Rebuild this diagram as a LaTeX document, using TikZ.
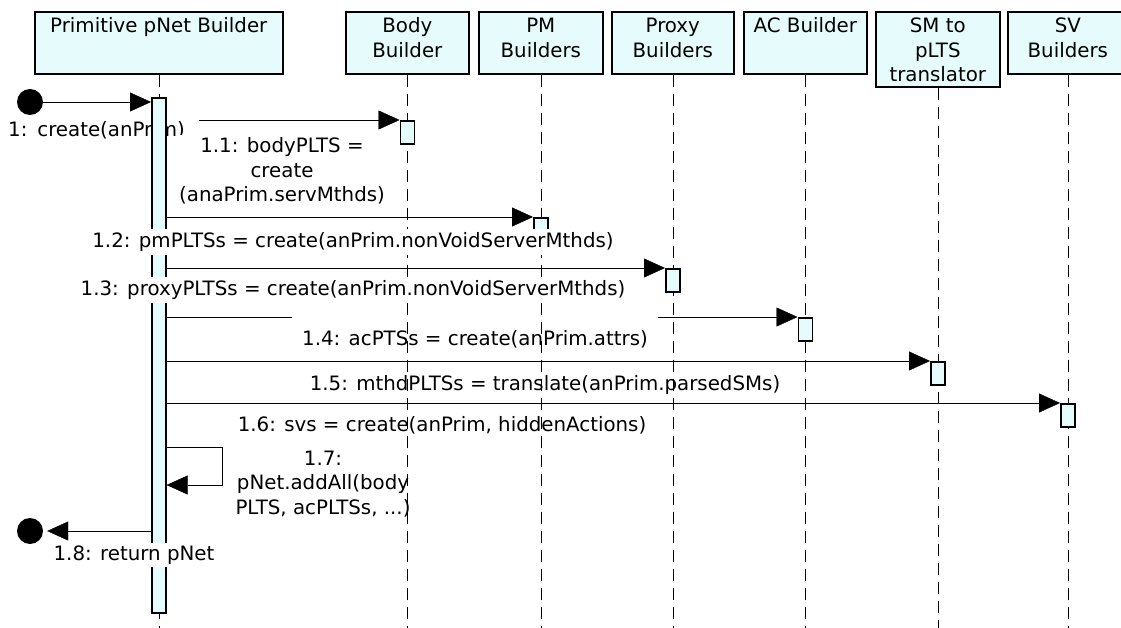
\documentclass[tikz,border=0pt]{standalone}
\usepackage{fontspec}
\setmainfont{DejaVu Sans}
\usetikzlibrary{arrows.meta}

\definecolor{lifefill}{RGB}{230,252,252}

% head box text, top aligned
\newcommand{\headtext}[3]{\parbox[t][#2][t]{#1}{\centering\vspace*{4pt}\strut #3}}

\pgfdeclarelayer{msgs}
\pgfdeclarelayer{lines}
\pgfdeclarelayer{top}
\pgfsetlayers{msgs,lines,main,top}

\tikzset{
  head/.style={draw, fill=lifefill, inner sep=0pt, anchor=north west},
  lifeline/.style={dash pattern=on 12pt off 7pt},
  act/.style={draw, fill=lifefill, minimum width=14pt, inner sep=0pt, anchor=north},
  msg/.style={-{Triangle[length=21pt,width=19pt]}},
  lbl/.style={fill=white, inner sep=3pt, align=center},
  endpt/.style={circle, fill=black, minimum size=26pt, inner sep=0pt},
}

\begin{document}
\begin{tikzpicture}[x=1pt, y=-1pt, line width=1.6pt, font=\fontsize{19.8}{24.5}\selectfont]
  \useasboundingbox (0,0) rectangle (1121,628);
  \coordinate (bottom) at (0,628);

  % lifeline heads
  \node[head] (prim)  at (34,11)   {\headtext{248pt}{62pt}{Primitive pNet Builder}};
  \node[head] (body)  at (345,11)  {\headtext{123pt}{62pt}{Body\\Builder}};
  \node[head] (pm)    at (478,11)  {\headtext{124pt}{62pt}{PM\\Builders}};
  \node[head] (proxy) at (611,11)  {\headtext{122pt}{62pt}{Proxy\\Builders}};
  \node[head] (ac)    at (743,11)  {\headtext{123pt}{62pt}{AC Builder}};
  \node[head] (sm)    at (875,11)  {\headtext{124pt}{75pt}{SM to\\pLTS\\translator}};
  \node[head] (sv)    at (1007,11) {\headtext{120pt}{62pt}{SV\\Builders}};

  % activations
  \node[act, minimum height=515pt] (a0) at (prim |- 0,97) {};
  \node[act, minimum height=23pt] (a1) at (body |- 0,120) {};
  \node[act, minimum height=23pt] (a2) at (pm |- 0,217) {};
  \node[act, minimum height=23pt] (a3) at (proxy |- 0,268) {};
  \node[act, minimum height=23pt] (a4) at (ac |- 0,317) {};
  \node[act, minimum height=23pt] (a5) at (sm |- 0,361) {};
  \node[act, minimum height=23pt] (a6) at (sv |- 0,403) {};

  \begin{pgfonlayer}{lines}
    \foreach \n in {prim,body,pm,proxy,ac,sm,sv}
      \draw[lifeline] (\n.south) -- (\n.south |- bottom);
  \end{pgfonlayer}

  \begin{pgfonlayer}{msgs}
    \node[endpt] (init) at (30,102) {};
    \node[endpt] (final) at (30,531) {};

    % messages
    \draw[msg] (init) -- (init -| a0.west);
    \draw[msg] (a0.east |- a1.north) -- (a1.north west);
    \draw[msg] (a0.east |- a2.north) -- (a2.north west);
    \draw[msg] (a0.east |- a3.north) -- (a3.north west);
    \draw[msg] (a0.east |- a4.north) -- (a4.north west);
    \draw[msg] (a0.east |- a5.north) -- (a5.north west);
    \draw[msg] (a0.east |- a6.north) -- (a6.north west);
    \draw[msg] (a0.east |- 0,447) -- ++(56,0) |- (a0.east |- 0,485);
    \draw[msg, shorten >=4pt] (a0.west |- final) -- (final.east);

    % labels
    \node[lbl, anchor=west, text width=186pt, align=left, inner xsep=5pt] (l1) at (3,130) {1: create(anPrim)};
    \node[lbl] (l11) at (282,171) {1.1: bodyPLTS =\\create\\(anaPrim.servMthds)};
    \node[lbl, anchor=base, text height=26pt, inner xsep=10pt] (l14) at (475,345) {1.4: acPTSs = create(anPrim.attrs)};
    \node[lbl] (l15) at (545,385) {1.5: mthdPLTSs = translate(anPrim.parsedSMs)};
    \node[lbl] (l16) at (442,425) {1.6: svs = create(anPrim, hiddenActions)};
    \node[lbl] (l17) at (323,484) {1.7:\\pNet.addAll(body\\PLTS, acPLTSs, ...)};
  \end{pgfonlayer}

  \begin{pgfonlayer}{top}
    \node[lbl] (l12) at (353,242) {1.2: pmPLTSs = create(anPrim.nonVoidServerMthds)};
    \node[lbl] (l13) at (353,290) {1.3: proxyPLTSs = create(anPrim.nonVoidServerMthds)};
    \node[lbl] (l18) at (134,555) {1.8: return pNet};
  \end{pgfonlayer}
\end{tikzpicture}
\end{document}
